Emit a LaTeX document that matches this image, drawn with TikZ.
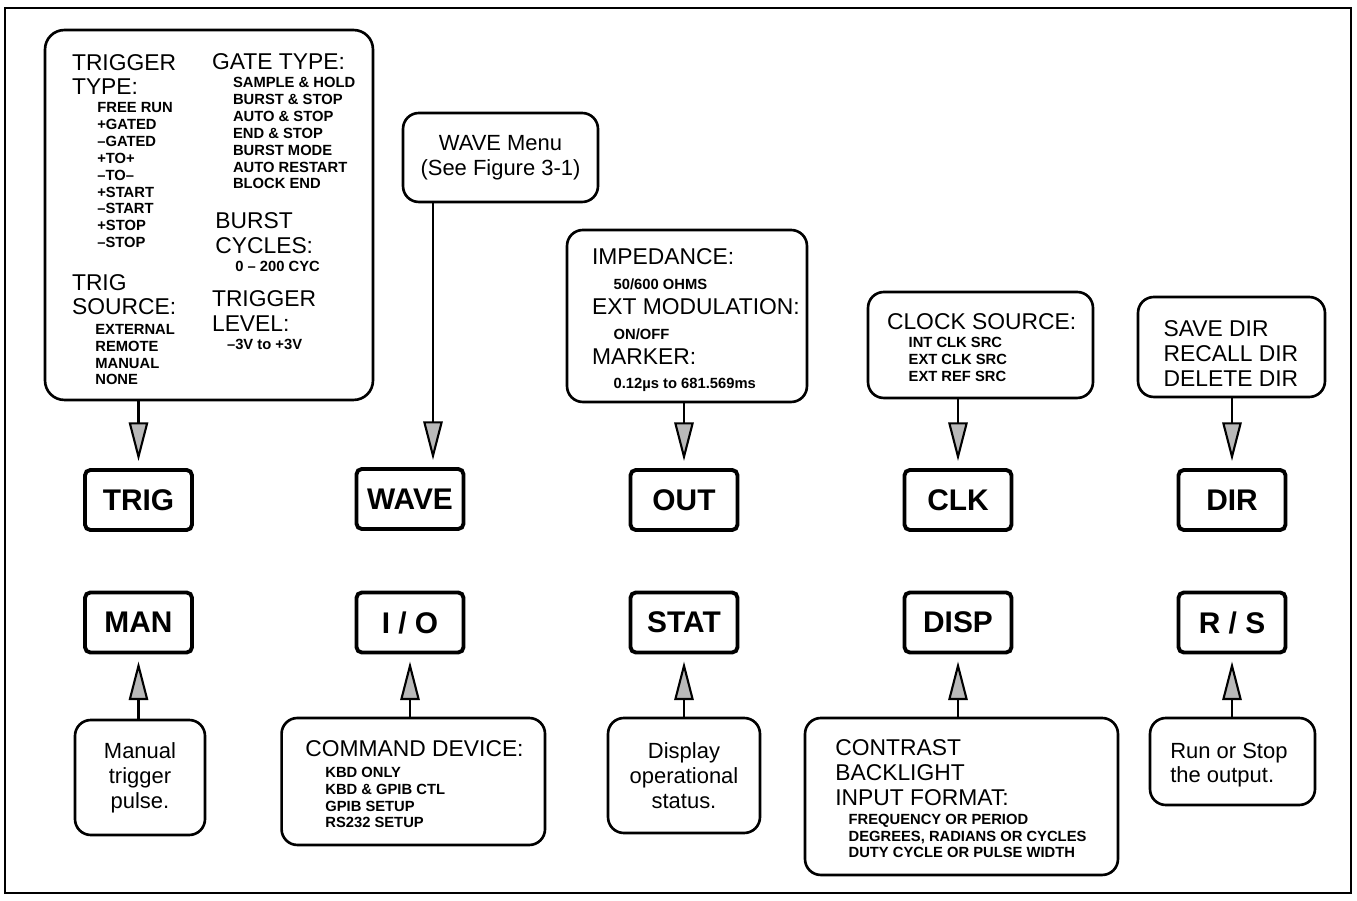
\documentclass[tikz,border=0pt]{standalone}
\usepackage{fontspec}
\setmainfont{Liberation Sans}
\usetikzlibrary{arrows.meta}
\usetikzlibrary{positioning}

\begin{document}
\begin{tikzpicture}[
        x=0.02cm, y=-0.02cm,
        menu/.style={
            draw,
            line width=1.5pt,
            rounded corners=9pt,
            inner sep=0pt,
        },
        key/.style={
            draw,
            line width=2.2pt,
            rounded corners=3pt,
            minimum width=2.14cm,
            minimum height=1.2cm,
            font=\fontsize{17}{20}\selectfont\bfseries,
        },
        head/.style={
            anchor=base west,
            inner sep=0pt,
            align=left,
            font=\fontsize{13}{14.2}\selectfont,
        },
        item/.style={
            anchor=base west,
            inner sep=0pt,
            align=left,
            font=\fontsize{8.4}{9.6}\selectfont\bfseries,
        },
        note/.style={
            align=center,
            font=\fontsize{12.5}{14.2}\selectfont,
        },
        feed/.style={
            -{Triangle[length=22pt,width=11pt,fill=gray!55]},
            line width=1.2pt,
            shorten >=4pt,
        }
    ]

    \useasboundingbox (0,0) rectangle (1357,901);
    \draw [line width=0.6pt] (5,8) rectangle (1351,893);

    % keys
    \node (trig) at (138.5,500) [key] {TRIG};
    \node (wave) at (410,499) [key] {WAVE};
    \node (out) at (684,500) [key] {OUT};
    \node (clk) at (958,500) [key] {CLK};
    \node (dir) at (1232,500) [key] {DIR};

    \node (man) at (138.5,622.5) [key] {MAN};
    \node (io) at (410,622.5) [key] {I / O};
    \node (stat) at (684,622.5) [key] {STAT};
    \node (disp) at (958,622.5) [key] {DISP};
    \node (rs) at (1232,622.5) [key] {R / S};

    % upper menus (multi-line texts sit on their last baseline)
    \node (trigmenu) at (209,215) [menu, rounded corners=11pt, minimum width=6.56cm, minimum height=7.4cm] {};
    \node (trigtype) at (71.7,95) [head] {TRIGGER\\TYPE:};
    \node (trigtypes) at (97,247.7) [item] {FREE RUN\\+GATED\\–GATED\\+TO+\\–TO–\\+START\\–START\\+STOP\\–STOP};
    \node (trigsrc) at (71.7,315) [head] {TRIG\\SOURCE:};
    \node (trigsrcs) at (95,385) [item] {EXTERNAL\\REMOTE\\MANUAL\\NONE};
    \node (gatetype) at (211.7,70) [head] {GATE TYPE:};
    \node (gatetypes) at (232.7,189) [item] {SAMPLE \& HOLD\\BURST \& STOP\\AUTO \& STOP\\END \& STOP\\BURST MODE\\AUTO RESTART\\BLOCK END};
    \node (burst) at (215,253.3) [head] {BURST\\CYCLES:};
    \node (bursts) at (235,271.7) [item] {0 – 200 CYC};
    \node (triglevel) at (211.7,331.7) [head] {TRIGGER\\LEVEL:};
    \node (triglevels) at (226.7,350) [item] {–3V to +3V};

    \node (wavemenu) at (500.5,157.5) [menu, note, minimum width=3.9cm, minimum height=1.78cm] {WAVE Menu\\(See Figure 3-1)};

    \node (outmenu) at (687,316) [menu, minimum width=4.8cm, minimum height=3.44cm] {};
    \node (imp) at (591.7,265) [head] {IMPEDANCE:};
    \node (imps) at (613.3,290) [item] {50/600 OHMS};
    \node (extmod) at (591.7,315) [head] {EXT MODULATION:};
    \node (extmods) at (613.3,340) [item] {ON/OFF};
    \node (marker) at (591.7,365) [head] {MARKER:};
    \node (markers) at (613.3,388.3) [item] {0.12µs to 681.569ms};

    \node (clkmenu) at (980.5,345) [menu, minimum width=4.5cm, minimum height=2.12cm] {};
    \node (clksrc) at (886.7,330) [head] {CLOCK SOURCE:};
    \node (clksrcs) at (908.3,381.7) [item] {INT CLK SRC\\EXT CLK SRC\\EXT REF SRC};

    \node (dirmenu) at (1231.5,347) [menu, minimum width=3.74cm, minimum height=2cm] {};
    \node (dirops) at (1163.3,386.8) [head] {SAVE DIR\\RECALL DIR\\DELETE DIR};

    % lower menus
    \node (manmenu) at (140,777.5) [menu, note, minimum width=2.6cm, minimum height=2.3cm] {Manual\\trigger\\pulse.};

    \node (iomenu) at (413.3,781.5) [menu, minimum width=5.27cm, minimum height=2.54cm] {};
    \node (cmddev) at (305,756.7) [head] {COMMAND DEVICE:};
    \node (cmddevs) at (325,828) [item] {KBD ONLY\\KBD \& GPIB CTL\\GPIB SETUP\\RS232 SETUP};

    \node (statmenu) at (684,775.5) [menu, note, minimum width=3.04cm, minimum height=2.3cm] {Display\\operational\\status.};

    \node (dispmenu) at (961.5,796.5) [menu, minimum width=6.26cm, minimum height=3.14cm] {};
    \node (dispops) at (835,805.1) [head] {CONTRAST\\BACKLIGHT\\INPUT FORMAT:};
    \node (dispfmts) at (848.3,858) [item] {FREQUENCY OR PERIOD\\DEGREES, RADIANS OR CYCLES\\DUTY CYCLE OR PULSE WIDTH};

    \node (rsmenu) at (1232.5,761.5) [menu, minimum width=3.3cm, minimum height=1.74cm] {};
    \node (rsnote) at (1170,783) [head, font=\fontsize{12.5}{14.2}\selectfont] {Run or Stop\\the output.};

    % arrows
    \coordinate (wavex) at (433,0);
    \draw [feed] (trigmenu.south -| trig) -- (trig.north);
    \draw [feed] (wavemenu.south -| wavex) -- (wave.north -| wavex);
    \draw [feed] (outmenu.south -| out) -- (out.north);
    \draw [feed] (clkmenu.south -| clk) -- (clk.north);
    \draw [feed] (dirmenu.south -| dir) -- (dir.north);

    \draw [feed] (manmenu.north -| man) -- (man.south);
    \draw [feed] (iomenu.north -| io) -- (io.south);
    \draw [feed] (statmenu.north -| stat) -- (stat.south);
    \draw [feed] (dispmenu.north -| disp) -- (disp.south);
    \draw [feed] (rsmenu.north -| rs) -- (rs.south);

\end{tikzpicture}
\end{document}
